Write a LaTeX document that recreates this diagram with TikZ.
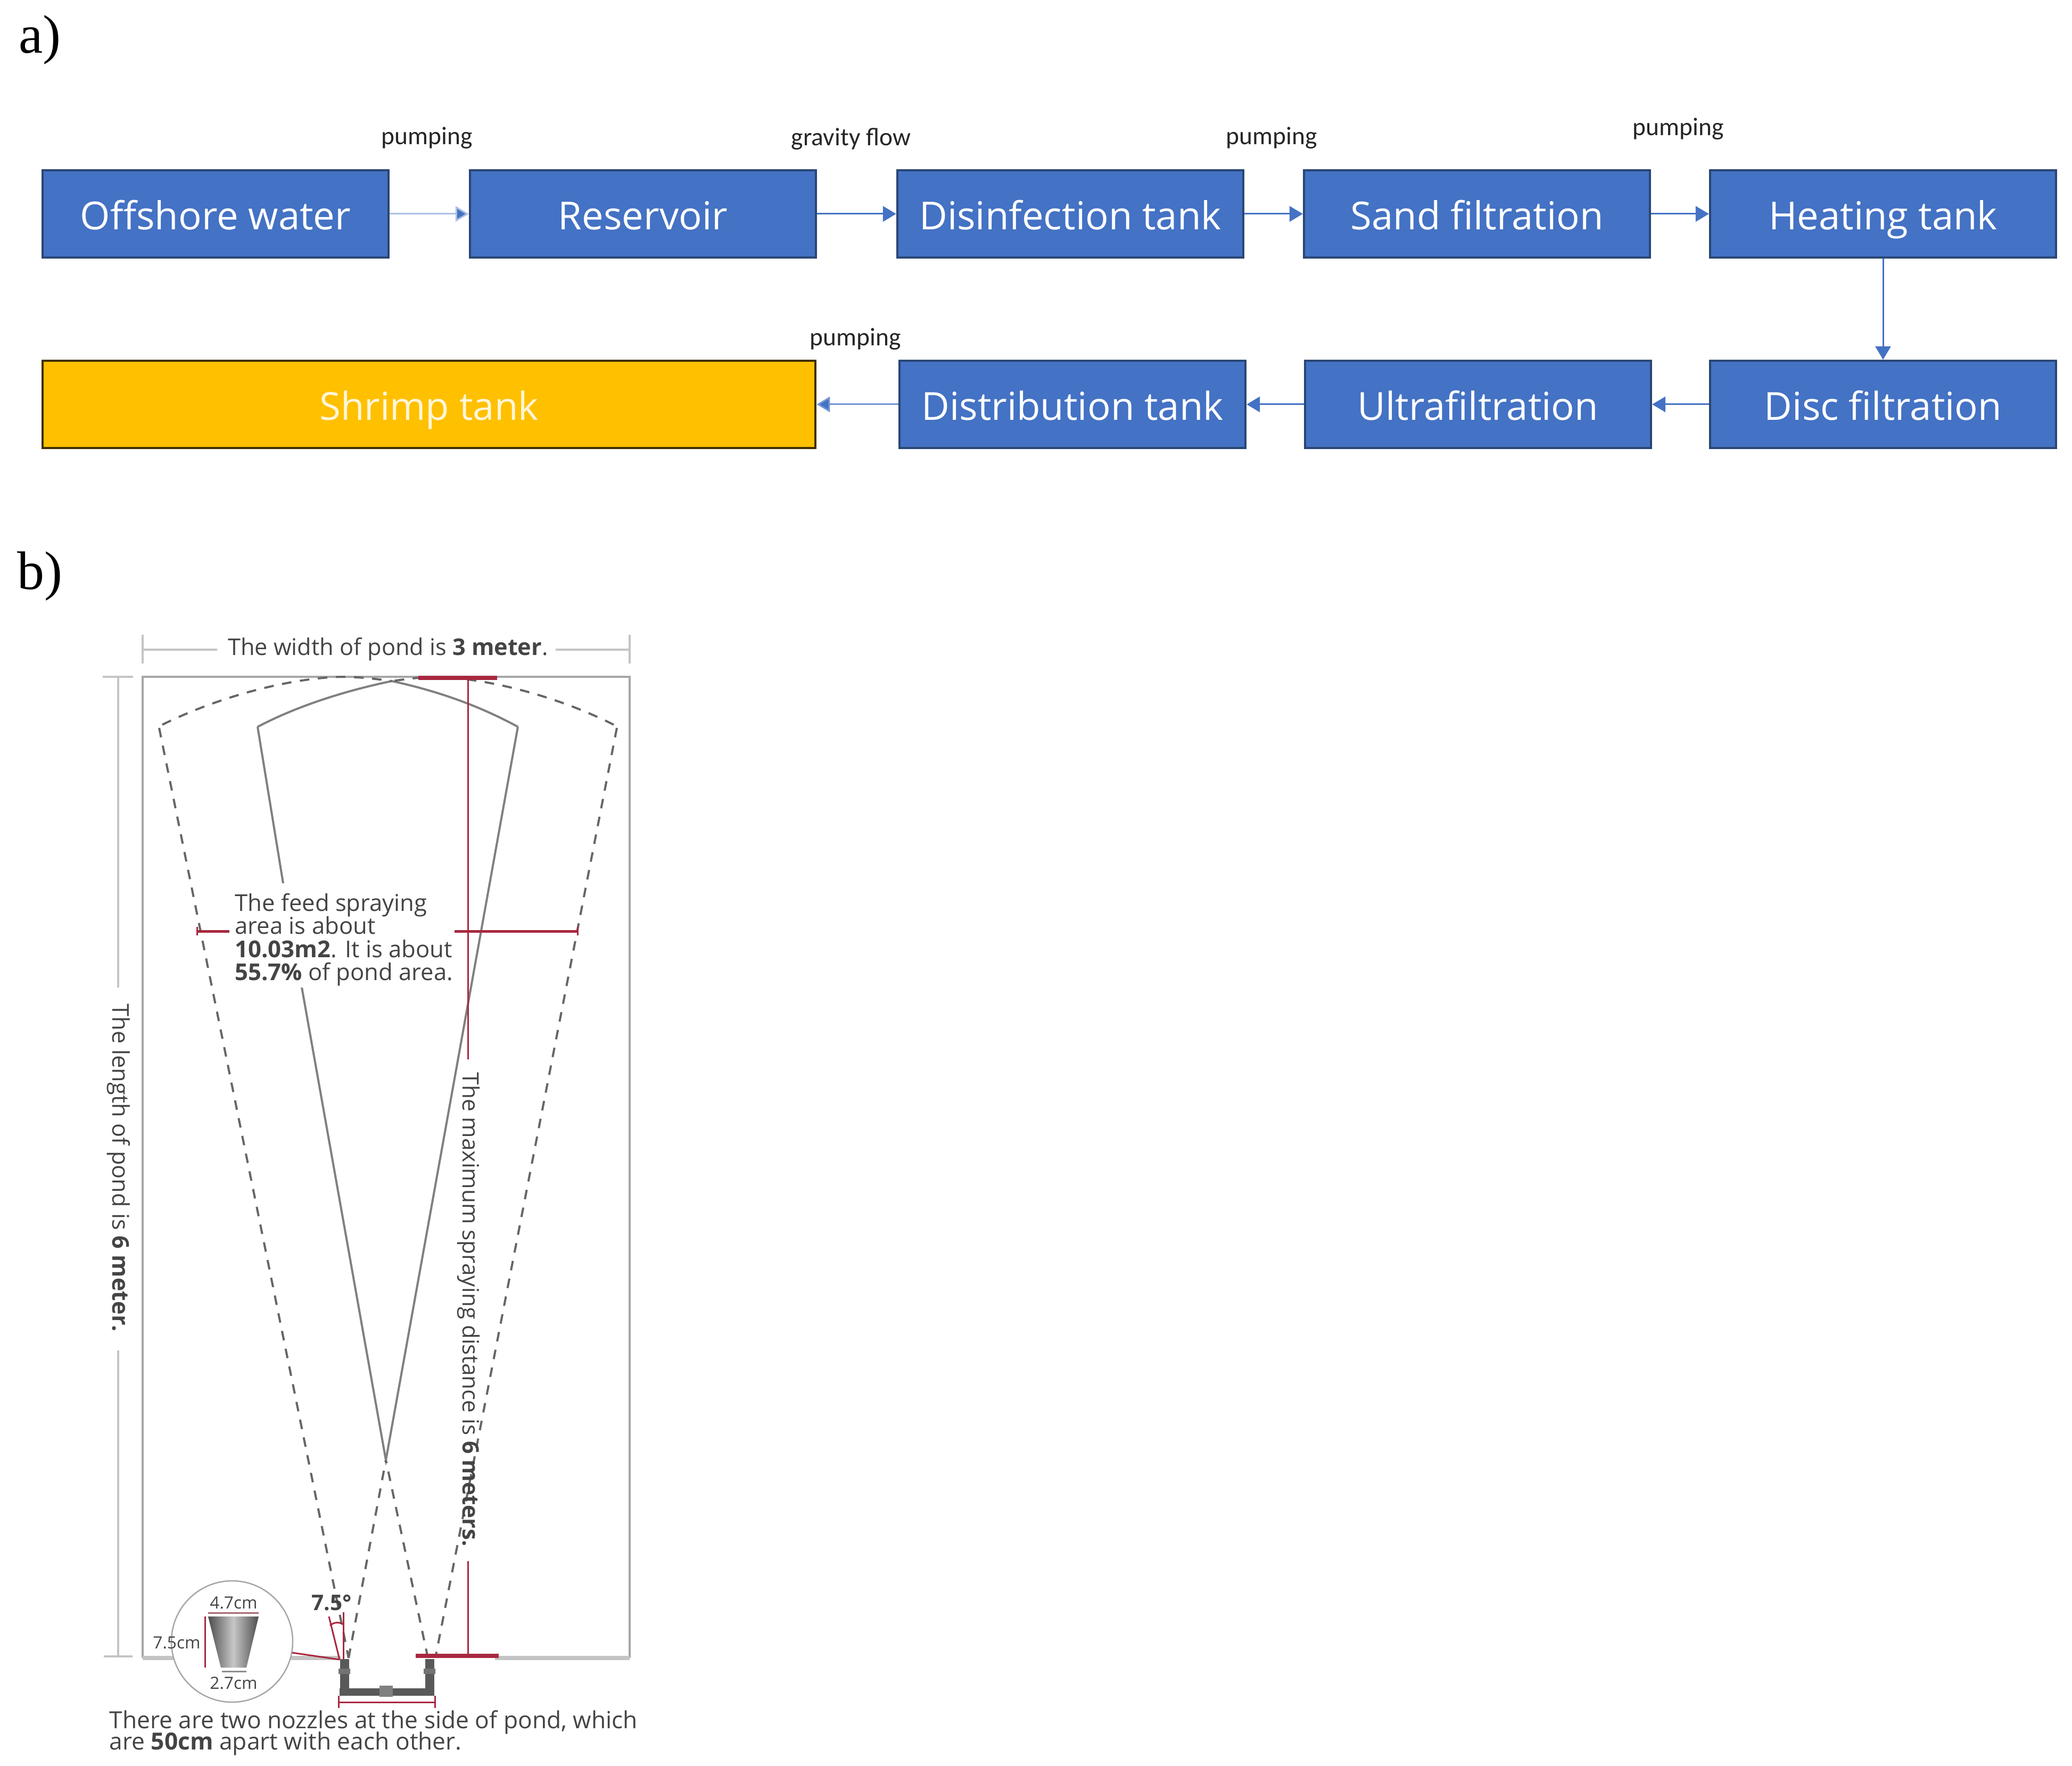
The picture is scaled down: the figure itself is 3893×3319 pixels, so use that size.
\documentclass[tikz,border=0pt]{standalone}
\usepackage{fontspec}
\setmainfont{Open Sans}
\newfontfamily\timesf{Liberation Serif}
\newfontfamily\calibrif{Carlito}
\newfontfamily\pondf{Open Sans}
\usetikzlibrary{arrows.meta}
\definecolor{boxblue}{HTML}{4472C4}
\definecolor{boxedge}{HTML}{2A4674}
\definecolor{amberfill}{HTML}{FFC000}
\definecolor{dimred}{HTML}{A8283F}
\definecolor{pondgrey}{HTML}{A6A6A6}
\definecolor{dimgrey}{HTML}{C4C4C4}
\definecolor{sprayg}{HTML}{808080}
\definecolor{txtg}{HTML}{444444}
\tikzset{
  x=0.01cm,y=-0.01cm,
  tank/.style={draw=boxedge,line width=0.04cm,fill=boxblue,text=white,minimum height=1.64cm,minimum width=6.5cm,inner sep=0pt,text height=21.4pt,text depth=4.4pt,font=\fontsize{20.6}{24}\selectfont},
  amber/.style={tank,fill=amberfill,draw=black!75!amberfill,minimum width=14.52cm,text=white!85!amberfill},
  flow/.style={draw=boxblue,line width=0.03cm,-{Triangle[length=0.25cm,width=0.29cm,fill=boxblue]}},
  flowlight/.style={flow,draw=boxblue!45},
  flowmid/.style={flow,draw=boxblue!75},
  viaLabel/.style={inner sep=0pt,font=\calibrif\fontsize{13.5}{16}\selectfont,text=black!85},
  partLabel/.style={inner sep=0pt,font=\timesf\fontsize{29}{32}\selectfont},
  pondText/.style={inner sep=0pt,text=txtg,font=\pondf\fontsize{12.3}{12.4}\selectfont},
  smallText/.style={pondText,font=\pondf\fontsize{9}{10}\selectfont},
  dimline/.style={draw=dimgrey,line width=0.035cm},
  redline/.style={draw=dimred,line width=0.03cm},
  redbar/.style={draw=dimred,line width=0.08cm},
  spray/.style={draw=sprayg,line width=0.04cm},
  spraydash/.style={spray,draw=black!60,dash pattern=on 0.18cm off 0.16cm},
}
\begin{document}
\begin{tikzpicture}
\useasboundingbox (0,0) rectangle (3893,3319);
% part a
\node[partLabel] (lblA) at (75,75) {a)};
\node[partLabel] (lblB) at (75,1083) {b)};
\node[tank] (off) at (405,402) {Offshore water};
\node[tank] (res) at (1208,402) {Reservoir};
\node[tank] (dis) at (2011,402) {Disinfection tank};
\node[tank] (san) at (2775,402) {Sand filtration};
\node[tank] (hea) at (3538,402) {Heating tank};
\node[tank] (dsc) at (3538,760) {Disc filtration};
\node[tank] (ult) at (2777,760) {Ultrafiltration};
\node[tank] (dst) at (2015,760) {Distribution tank};
\node[amber] (shr) at (806,760) {Shrimp tank};
\draw[flowlight] (off) -- (res);
\draw[flow] (res) -- (dis);
\draw[flow] (dis) -- (san);
\draw[flow] (san) -- (hea);
\draw[flow] (hea) -- (dsc);
\draw[flow] (dsc) -- (ult);
\draw[flow] (ult) -- (dst);
\draw[flowmid] (dst) -- (shr);
\node[viaLabel] (p1) at (802,259) {pumping};
\node[viaLabel] (p2) at (1599,261) {gravity flow};
\node[viaLabel] (p3) at (2389,259) {pumping};
\node[viaLabel] (p4) at (3153,242) {pumping};
\node[viaLabel] (p5) at (1607,637) {pumping};
% part b: pond outline and dimensions
\draw[draw=pondgrey,line width=0.04cm] (268,3116) -- (268,1272) -- (1183,1272) -- (1183,3116);
\draw[draw=dimgrey,line width=0.08cm] (268,3116) -- (640,3116) (930,3116) -- (1183,3116);
\draw[dimline] (268,1193) -- (268,1247) (1183,1193) -- (1183,1247);
\draw[dimline] (268,1221) -- (408,1221) (1044,1221) -- (1183,1221);
\draw[dimline] (193,1272) -- (250,1272) (222,1272) -- (222,1856) (222,2538) -- (222,3113) (195,3113) -- (249,3113);
% spray fans
\draw[spray] (484,1366) -- (532,1660);
\draw[spray] (566,1850) -- (725,2744) -- (973,1366);
\draw[spray] (484,1366) .. controls (560,1326) and (650,1298) .. (736,1280) .. controls (820,1298) and (900,1326) .. (973,1366);
\draw[spraydash] (655,3116) -- (725,2744);
\draw[spraydash] (804,3116) -- (725,2744);
\draw[spraydash] (299,1368) -- (655,3116);
\draw[spraydash] (1159,1368) -- (818,3116);
\draw[spraydash] (305,1362) .. controls (410,1310) and (540,1275) .. (640,1272) .. controls (670,1272) and (700,1275) .. (736,1280);
\draw[spraydash] (1153,1362) .. controls (1050,1310) and (920,1275) .. (820,1272) .. controls (800,1272) and (780,1274) .. (736,1280);
% red dimensions
\draw[redbar] (786,1274) -- (934,1274);
\draw[redline] (879,1274) -- (879,1991);
\draw[redbar,line width=0.05cm] (852,1750) -- (1085,1750);
\draw[redbar,line width=0.05cm] (370,1750) -- (431,1750);
\draw[redline] (370,1742) -- (370,1758) (1085,1742) -- (1085,1758);
\draw[redline] (879,2934) -- (879,3111);
\draw[redbar] (781,3112) -- (937,3112);
% nozzle detail
\draw[draw=pondgrey,fill=white,line width=0.025cm] (436,3085) circle[radius=114];
\path[left color=black!70,right color=black!70,middle color=black!22] (391,3038) -- (486,3038) -- (463,3134) -- (415,3134) -- cycle;
\draw[redline,draw=dimred!50!pondgrey] (391,3031) -- (486,3031);
\draw[draw=black!45,line width=0.03cm] (417,3141) -- (463,3141);
\draw[redline] (385,3038) -- (385,3134);
\draw[redline] (549,3106) -- (638,3119);
\draw[redline] (618,3038) -- (638,3119);
\draw[redline] (645,3030) -- (645,3118);
\draw[redline] (620,3055) .. controls (628,3048) and (637,3048) .. (645,3053);
% pipe
\draw[draw=black!65,line width=0.17cm] (647,3118) -- (647,3180);
\draw[draw=black!65,line width=0.17cm] (807,3118) -- (807,3180);
\draw[draw=black!65,line width=0.14cm] (638,3180) -- (816,3180);
\fill[black!50] (713,3168) rectangle (738,3189);
\fill[black!55] (636,3136) rectangle (658,3146) (796,3136) rectangle (818,3146);
\draw[redline] (636,3199) -- (817,3199) (636,3187) -- (636,3210) (817,3187) -- (817,3210);
% pond texts
\node[pondText] (tw) at (729,1220) {The width of pond is \textbf{3 meter}.};
\node[pondText,rotate=-90] (tl) at (223,2195) {The length of pond is \textbf{6 meter.}};
\node[pondText,rotate=-90,font=\pondf\fontsize{12.05}{12.4}\selectfont] (tm) at (880,2461) {The maximum spraying distance is \textbf{6 meters.}};
\node[pondText,fill=white,align=left,anchor=north west,inner sep=0.03cm,font=\pondf\fontsize{12.4}{12.4}\selectfont] (tf) at (438,1675) {The feed spraying\\area is about\\\textbf{10.03m2}. It is about\\\textbf{55.7\%} of pond area.};
\node[pondText,font=\pondf\bfseries\fontsize{11.5}{12}\selectfont] (tang) at (623,3012) {7.5°};
\node[smallText] (t47) at (439,3012) {4.7cm};
\node[smallText] (t27) at (439,3163) {2.7cm};
\node[smallText] (t75) at (332,3087) {7.5cm};
\node[pondText,font=\pondf\fontsize{12.6}{10.6}\selectfont,align=left,anchor=north west] (tb) at (205,3214) {There are two nozzles at the side of pond, which\\[-2.4pt]are \textbf{50cm} apart with each other.};
\end{tikzpicture}
\end{document}
